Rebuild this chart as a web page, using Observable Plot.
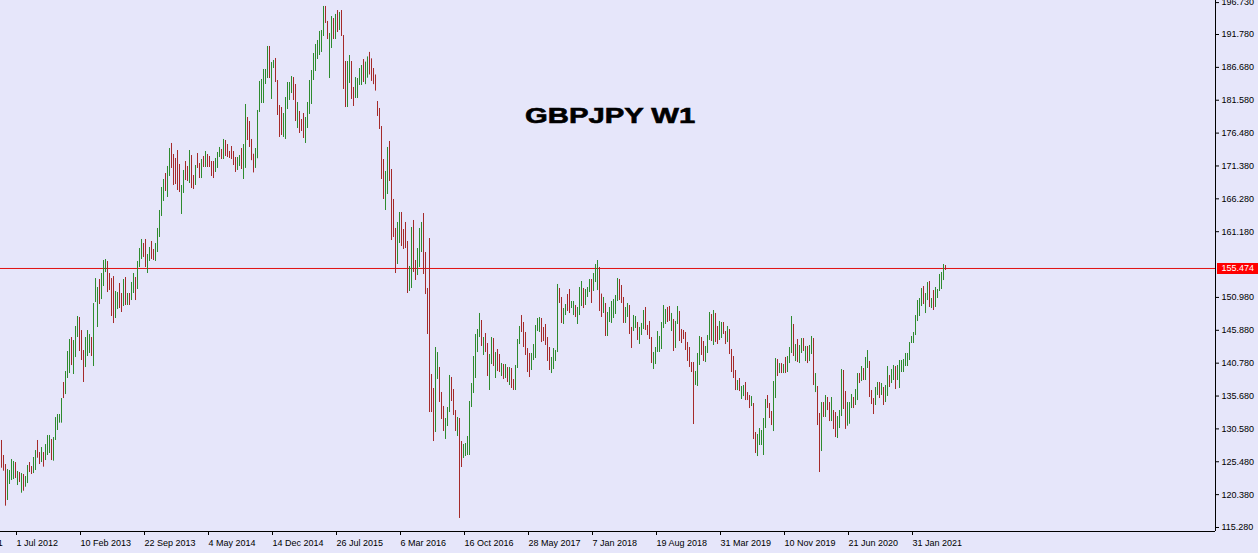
<!DOCTYPE html>
<html><head><meta charset="utf-8">
<script src="https://cdn.jsdelivr.net/npm/d3@7"></script>
<script src="https://cdn.jsdelivr.net/npm/@observablehq/plot@0.6"></script>
<style>
html,body{margin:0;padding:0;background:#e6e6fa;overflow:hidden}
#chart{position:relative;width:1258px;height:553px}
#title{position:absolute;left:525px;top:105px;font:bold 22px "Liberation Sans",Arial,sans-serif;line-height:22px;color:#000;-webkit-text-stroke:0.6px #000;transform:scaleX(1.33);transform-origin:0 0;white-space:nowrap}
</style></head>
<body><div id="chart"><div id="title"></div></div>
<script>
const symbol = "GBPJPY W1";
const firstWeek = "2012-05-13";
const bid = 155.474;
const highs = [
128.78,126.45,125.05,124.28,124.12,125.83,125.52,125.36,123.97,123.81,
123.65,123.5,123.19,124.9,125.36,124.74,126.14,127.22,128.78,126.91,
127.69,126.91,128.15,129.55,129.55,128.93,129.24,132.34,132.81,132.81,
135.29,137.78,139.48,142.59,144.45,144.76,144.29,146.47,148.02,147.86,
145.84,142.74,144.76,145.84,145.22,144.76,150.03,153.91,152.52,153.76,
154.69,156.71,156.86,156.55,154.69,153.91,154.22,151.9,151.74,153.14,
151.59,153.76,154.07,151.59,151.59,153.3,154.69,154.07,156.56,158.57,
159.97,159.35,159.97,157.64,158.73,159.66,158.42,159.35,161.68,164.47,
168.04,169.28,170.21,171.3,174.09,174.87,173.16,172.54,173.78,171.61,
168.35,170.68,172.07,171.3,173.78,173.0,169.9,171.45,173.31,171.76,
172.38,172.85,173.62,173.16,172.85,172.07,172.07,172.54,173.47,174.25,
173.94,175.49,175.33,174.71,173.62,174.4,173.62,172.69,172.69,173.0,
174.09,174.71,180.92,178.9,178.28,175.49,173.2,174.09,179.99,184.49,
184.8,186.35,186.35,189.92,189.92,187.43,187.75,188.06,184.64,180.76,
180.45,179.52,182.0,184.33,184.33,185.26,185.1,184.02,181.23,179.83,
178.59,179.52,178.9,181.23,184.64,186.19,188.83,190.23,190.85,192.25,
192.4,196.13,196.13,193.8,191.94,194.57,194.26,194.89,195.5,195.2,
195.5,191.62,187.59,187.59,188.52,187.59,183.56,185.1,184.95,186.5,
186.97,187.9,187.5,188.3,189.0,188.0,186.5,185.5,181.38,180.3,
177.5,172.38,170.52,174.25,175.18,170.83,166.18,161.68,162.61,164.16,
164.16,161.52,162.61,159.66,155.78,161.83,162.92,156.71,158.57,161.68,
162.61,164.0,157.95,152.37,160.12,139.02,136.85,143.21,142.43,140.11,
136.23,134.06,132.19,133.9,138.87,138.56,136.69,133.43,132.35,132.19,
128.62,128.16,128.31,129.4,134.83,137.62,141.81,145.23,146.0,148.49,
147.4,144.76,145.38,143.83,142.12,144.76,144.6,142.43,142.9,142.12,
140.73,140.57,140.57,140.1,140.1,139.95,138.24,140.42,144.45,146.47,
148.17,147.09,145.54,143.05,142.28,142.28,143.67,146.62,147.71,147.86,
147.71,146.31,146.78,144.76,143.21,141.66,143.05,142.74,152.99,152.37,
150.97,149.26,149.88,151.43,152.21,150.35,150.35,149.73,149.42,152.52,
153.45,152.37,152.21,152.52,153.76,153.76,154.69,156.09,156.71,155.62,
151.5,150.97,150.04,148.64,149.42,150.35,150.66,151.28,153.92,153.76,
152.83,150.97,149.42,150.04,149.73,146.32,148.18,148.02,147.09,146.32,
146.94,148.95,149.42,146.63,147.25,144.76,142.44,143.21,145.69,144.92,
147.09,149.73,149.11,149.42,149.57,148.49,147.56,147.25,149.57,148.8,
146.0,145.85,145.54,143.99,143.21,140.88,140.88,139.49,142.28,144.92,
144.76,144.14,143.37,145.07,148.64,148.33,148.95,148.49,146.47,147.25,
147.09,147.09,145.69,146.47,146.0,142.9,141.81,139.64,138.09,138.4,
137.16,137.31,137.78,136.22,135.76,135.6,134.52,130.02,129.71,130.64,
130.33,132.19,135.14,135.76,134.52,133.28,137.93,141.5,141.34,140.72,
140.72,140.57,141.66,141.81,143.21,148.02,146.78,143.67,144.45,143.52,
144.6,144.6,143.37,143.37,143.52,144.92,144.6,139.17,137.16,132.97,
134.67,134.67,135.76,135.45,134.67,135.45,133.43,133.12,132.5,133.43,
139.79,139.64,136.38,134.67,134.67,135.92,135.45,136.69,139.17,139.17,
140.26,139.95,141.66,142.74,141.04,136.54,135.29,137.0,137.78,137.78,
137.62,137.0,137.31,140.26,138.86,139.79,140.42,140.26,140.42,141.19,
141.19,141.35,142.28,142.28,143.98,144.92,145.54,148.17,150.5,150.81,
152.36,152.67,151.59,153.29,153.45,150.81,152.05,152.52,152.21,154.54,
154.85,156.09,155.93];
const lows = [
124.48,124.02,118.59,119.47,121.95,122.57,122.72,122.88,121.79,122.26,
120.6,120.91,121.53,122.1,123.81,123.5,123.65,124.12,126.03,125.05,
125.36,124.64,125.67,126.45,126.76,125.67,125.57,128.78,130.33,131.47,
131.47,135.29,135.91,138.4,139.17,140.41,139.02,141.65,144.76,142.59,
141.19,137.78,140.1,141.81,142.28,141.81,140.26,150.19,146.31,149.88,
150.65,152.67,154.84,151.74,152.05,148.02,146.93,147.71,149.1,149.26,
148.64,149.57,149.73,149.73,149.73,150.5,151.59,150.5,152.21,155.62,
156.87,157.18,155.62,154.69,156.56,156.87,156.71,156.56,157.95,160.28,
163.54,165.87,167.42,166.49,169.75,170.99,168.35,168.5,167.57,167.26,
163.85,167.11,169.12,168.97,168.66,167.88,167.73,168.35,170.99,169.43,
169.43,171.14,171.14,171.14,171.14,169.75,169.43,170.37,170.99,172.69,
172.38,172.38,172.85,172.69,172.54,172.38,171.45,170.37,170.68,171.3,
170.83,169.28,171.0,175.33,174.25,172.2,170.3,171.0,172.5,179.68,
181.07,181.07,184.02,184.95,184.95,181.7,186.5,184.33,179.21,175.8,
176.11,175.8,175.49,180.14,181.54,182.62,181.54,178.28,177.19,176.42,
176.73,175.64,174.87,177.19,179.37,180.92,184.64,186.04,187.9,188.52,
188.99,191.47,193.49,191.0,184.95,189.61,191.0,191.0,192.09,192.4,
191.47,183.25,180.45,180.45,184.18,181.7,180.61,181.85,181.85,183.87,
183.87,184.33,184.0,185.0,185.5,184.5,184.0,183.0,179.06,177.04,
169.28,166.18,164.47,166.95,168.97,159.81,160.28,154.69,156.09,159.35,
158.88,158.42,158.57,151.59,151.9,152.37,154.85,153.61,154.38,155.62,
157.95,154.54,151.43,145.23,133.12,133.12,128.62,130.02,138.25,134.68,
132.04,130.18,128.94,130.95,133.12,134.83,132.66,130.18,129.4,116.68,
124.59,125.99,126.3,126.45,126.45,133.9,136.07,138.4,142.43,144.76,
143.37,141.97,142.43,138.71,136.54,140.57,140.26,138.4,139.48,139.33,
138.71,138.24,138.4,137.78,137.31,136.85,136.54,136.54,139.95,143.67,
145.54,143.21,141.97,139.33,138.55,139.64,141.19,141.5,145.69,145.54,
143.98,144.14,143.52,141.04,139.64,139.17,139.79,141.04,142.43,150.04,
146.93,146.78,148.17,148.8,148.48,149.26,148.17,147.86,146.78,148.17,
149.57,149.26,149.73,150.97,151.74,150.04,151.9,153.29,152.05,148.8,
147.87,148.49,144.92,144.92,147.09,146.94,147.71,148.33,150.35,150.5,
150.04,146.94,146.94,147.87,145.23,143.06,145.69,146.16,144.3,143.68,
145.07,146.0,145.85,145.07,144.45,140.73,139.8,140.57,142.44,142.44,
142.9,146.16,146.78,147.09,147.25,145.69,142.59,143.06,146.78,144.14,
143.83,144.45,142.75,141.04,140.11,139.33,131.26,137.32,137.16,140.42,
141.97,141.04,140.88,142.28,144.3,144.14,143.52,143.99,143.68,144.3,
144.61,145.23,143.67,143.98,142.12,139.33,138.4,136.53,136.53,136.38,
135.14,135.6,134.98,134.98,133.74,134.05,128.93,126.76,126.29,128.0,
128.0,126.45,130.64,133.74,132.19,131.1,130.17,135.29,138.71,139.17,
139.17,139.17,139.17,139.33,140.72,142.28,141.81,141.03,140.88,140.72,
142.28,142.59,141.03,140.72,141.03,142.12,137.31,136.22,131.1,123.81,
127.07,132.35,132.35,133.43,131.72,131.72,130.48,129.24,129.09,130.64,
132.5,133.59,130.5,131.0,131.3,133.74,133.74,134.21,134.98,137.62,
137.93,138.09,138.09,139.95,135.45,134.36,132.81,134.21,135.76,135.29,
135.76,134.21,134.67,135.61,137.0,137.62,138.09,136.69,138.09,136.85,
139.33,139.33,140.26,140.26,141.19,143.83,143.83,145.07,147.24,148.02,
149.57,149.88,148.48,150.5,149.42,149.26,148.95,149.42,150.81,151.9,
152.21,153.6,155.16];
const directions =
  "rrrggggrgr" + "grggrrggrr" + "grgggrgggg" + "grgggrgggr" + "rrgggrgggr" +
  "gggrrrrggr" + "rgrgrggrgg" + "grrggrrggg" + "ggrggrrrrr" + "ggrrgrrgrr" +
  "grgrrrrggg" + "rgrrrrrrgg" + "rggrrrrggg" + "ggggrggrrr" + "rgggggrrgr" +
  "rrgggggggg" + "ggrrggrgrg" + "rrrggrrggg" + "grggrrrrrr" + "rrggrrrrgg" +
  "rrrrggrrgg" + "grrrrrrggr" + "rrgggrrrgr" + "rggggggggg" + "rgrrggrgrr" +
  "grgrgrrggg" + "rrrrrggggg" + "rrrrrggggr" + "rggrrggrgg" + "grgggrgggr" +
  "rgrggggggr" + "rrggrrggrg" + "ggrrrrgggg" + "gggrrgrggr" + "rrrrrrrggg" +
  "rrgggrgrrg" + "grrgrrrrgr" + "ggrrrgrrgg" + "gggrrrggrg" + "rgrgggrgrg" +
  "grgrggrgrr" + "grgrrgrrgg" + "grrgggrggr" + "grggrrrggr" + "grggrggrgg" +
  "gggggggggg" + "grggrgrggg" + "ggr";
const priceTicks = [115.28,120.38,125.48,130.58,135.68,140.78,145.88,150.98,161.18,166.28,171.38,176.48,181.58,186.68,191.78,196.73];
const dateLabels = ["20 Nov 2011","1 Jul 2012","10 Feb 2013","22 Sep 2013","4 May 2014","14 Dec 2014","26 Jul 2015","6 Mar 2016","16 Oct 2016","28 May 2017","7 Jan 2018","19 Aug 2018","31 Mar 2019","10 Nov 2019","21 Jun 2020","31 Jan 2021"];

const upColor = "#2e8b2e", downColor = "#a52a2a", bidColor = "#e01010";
const WEEK = 7 * 864e5;
const t0 = Date.parse(firstWeek + "T00:00:00Z");
const bars = highs.map((h, i) => ({date: new Date(t0 + i * WEEK), high: h, low: lows[i], up: directions[i] === "g"}));
const parseLabel = d3.utcParse("%d %b %Y");
const fmtLabel = d3.utcFormat("%-d %b %Y");
const tickDates = dateLabels.map(parseLabel);
const xDomain = [new Date(t0 - 0.5 * WEEK), new Date(t0 + 607 * WEEK)];
const yDomain = [114.659, 197.056];

document.getElementById("title").textContent = symbol;

const chart = Plot.plot({
  width: 1258, height: 553,
  marginLeft: 0, marginRight: 43, marginTop: 0, marginBottom: 22,
  style: {background: "transparent", fontFamily: "'Liberation Sans', Arial, sans-serif", fontSize: "9px", color: "#000"},
  x: {type: "utc", domain: xDomain},
  y: {domain: yDomain},
  color: {type: "identity"},
  marks: [
    Plot.ruleY([bid], {y: d => d, stroke: bidColor}),
    Plot.ruleX(bars, {x: "date", y1: "low", y2: "high", stroke: d => d.up ? upColor : downColor, strokeWidth: 1}),
    Plot.ruleX([xDomain[1]], {x: d => d, stroke: "#000"}),
    Plot.ruleY([yDomain[0]], {y: d => d, x1: xDomain[0], x2: xDomain[1], stroke: "#000"}),
    Plot.axisY({ticks: priceTicks, anchor: "right", tickSize: 3, tickPadding: 3, tickFormat: d => d.toFixed(3), stroke: "#000", fill: "#000"}),
    Plot.axisX({ticks: tickDates, anchor: "bottom", tickSize: 4, tickPadding: 4, tickFormat: d => fmtLabel(d), textAnchor: "start", dx: 1, stroke: "#000", fill: "#000"}),
    Plot.ruleY([bid], {y: d => d, x1: new Date(xDomain[1].getTime() + WEEK), x2: new Date(xDomain[1].getTime() + 40 * WEEK), stroke: "#ff0000", strokeWidth: 11}),
    Plot.text([bid], {y: d => d, text: d => d.toFixed(3), frameAnchor: "right", dx: 6, textAnchor: "start", fill: "#fff"})
  ]
});
document.getElementById("chart").appendChild(chart);
</script>
</body></html>
